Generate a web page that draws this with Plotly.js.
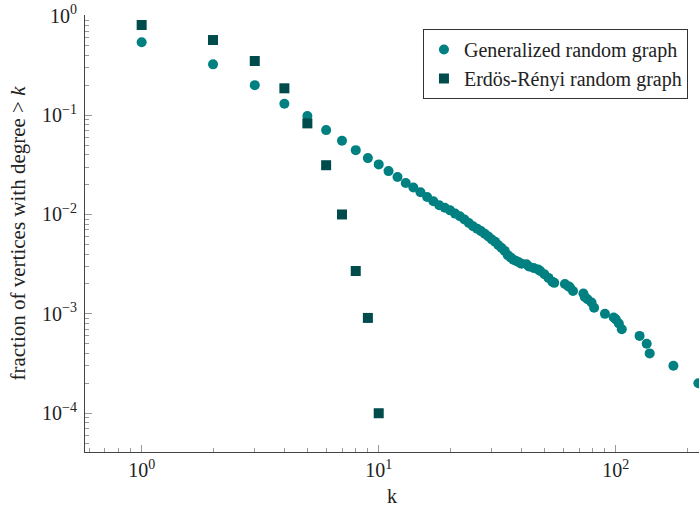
<!DOCTYPE html>
<html>
<head>
<meta charset="utf-8">
<script src="https://cdn.plot.ly/plotly-3.0.1.min.js"></script>
<style>html,body{margin:0;padding:0;background:#fff;}#chart{width:699px;height:507px;}</style>
</head>
<body>
<div id="chart"></div>
<script>
// Generalized random graph: fraction of vertices with degree > k
const genK = [1, 2, 3, 4, 5, 6, 7, 8, 9, 10, 11, 12, 13, 14, 15, 16, 17, 18, 19, 20,
  21, 22, 23, 24, 25, 26, 27, 28, 29, 30, 31, 32, 33, 34, 35, 36, 37, 38, 39, 40,
  42, 43, 45, 47, 48, 50, 52, 54, 55, 61, 63, 64, 66, 73, 74, 76, 79, 81, 90, 98,
  100, 103, 106, 126, 135, 139, 175, 223];
const genFrac = [0.54, 0.324, 0.2, 0.13, 0.098, 0.0706, 0.0551, 0.0444, 0.0369, 0.0319,
  0.0273, 0.0238, 0.0207, 0.0187, 0.0167, 0.015, 0.0136, 0.0124, 0.0117, 0.011,
  0.0102, 0.0096, 0.0089, 0.0082, 0.0076, 0.0072, 0.0068, 0.0064, 0.006, 0.0056,
  0.0053, 0.0049, 0.0046, 0.0043, 0.0039, 0.0037, 0.0035, 0.0034, 0.0033, 0.0032,
  0.00315, 0.003, 0.0029, 0.0028, 0.0027, 0.0025, 0.0023, 0.0021, 0.00205, 0.002,
  0.0019, 0.00185, 0.0017, 0.0016, 0.00148, 0.0014, 0.0013, 0.00115, 0.001, 0.00092,
  0.00088, 0.0008, 0.0007, 0.0006, 0.0005, 0.0004, 0.0003, 0.0002];

// Erdős–Rényi random graph
const erK = [1, 2, 3, 4, 5, 6, 7, 8, 9, 10];
const erFrac = [0.806, 0.569, 0.35, 0.186, 0.0825, 0.0313, 0.01, 0.0027, 0.00091, 0.0001];

const xTickVals = [1, 10, 100];
const xTickText = ['10<sup>0</sup>', '10<sup>1</sup>', '10<sup>2</sup>'];
const yTickVals = [0.0001, 0.001, 0.01, 0.1, 1];
const yTickText = ['10<sup>\u22124</sup>', '10<sup>\u22123</sup>', '10<sup>\u22122</sup>', '10<sup>\u22121</sup>', '10<sup>0</sup>'];

const serif = 'Liberation Serif';
const txt = '#222';

const traces = [
  {
    x: genK, y: genFrac, type: 'scatter', mode: 'markers',
    name: 'Generalized random graph',
    marker: {symbol: 'circle', size: 10, color: '#008080'}
  },
  {
    x: erK, y: erFrac, type: 'scatter', mode: 'markers',
    name: 'Erd\u00f6s-R\u00e9nyi random graph',
    marker: {symbol: 'square', size: 10, color: '#004c4c'}
  }
];

const axisCommon = {
  type: 'log',
  showgrid: false,
  zeroline: false,
  showline: true,
  linecolor: '#444',
  linewidth: 1,
  mirror: false,
  ticks: 'inside',
  ticklen: 7,
  tickwidth: 1,
  tickcolor: '#999',
  tickmode: 'array',
  tickfont: {family: serif, size: 20, color: txt},
  minor: {ticks: 'inside', ticklen: 4, tickwidth: 1, tickcolor: '#999', dtick: 'D1', showgrid: false}
};

const layout = {
  width: 699, height: 507,
  margin: {l: 85, r: 0, t: 15, b: 55},
  paper_bgcolor: '#fff', plot_bgcolor: '#fff',
  font: {family: serif, color: txt},
  showlegend: true,
  legend: {
    x: 0.982, y: 0.968, xanchor: 'right', yanchor: 'top',
    bordercolor: '#333', borderwidth: 1, bgcolor: '#fff',
    font: {family: serif, size: 20, color: txt},
    itemwidth: 30, tracegroupgap: 0
  },
  xaxis: Object.assign({}, axisCommon, {
    range: [-0.239, 2.351],
    tickvals: xTickVals, ticktext: xTickText,
    title: {text: 'k', font: {family: serif, size: 20, color: txt}, standoff: 8}
  }),
  yaxis: Object.assign({}, axisCommon, {
    range: [-4.39, 0.007],
    tickvals: yTickVals, ticktext: yTickText,
    ticklabelstandoff: 3,
    title: {text: 'fraction of vertices with degree > <i>k</i>', font: {family: serif, size: 21, color: txt}, standoff: 10}
  })
};

Plotly.newPlot('chart', traces, layout, {displayModeBar: false, staticPlot: true});
</script>
</body>
</html>
